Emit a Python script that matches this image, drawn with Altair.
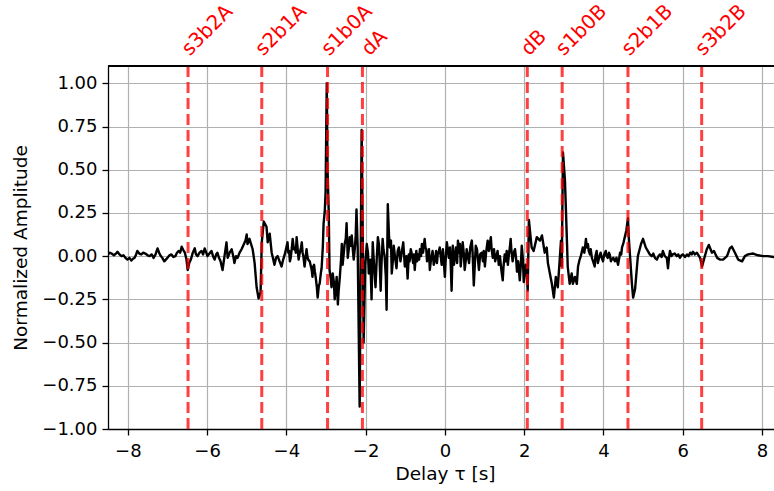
import altair as alt
import pandas as pd

# ---- data ----
delay_left = [-8.51, -8.45, -8.41, -8.35, -8.30, -8.26, -8.21, -8.16, -8.11, -8.06, -8.01, -7.96, -7.91, -7.87, -7.83,
              -7.79, -7.76, -7.71, -7.66, -7.61, -7.56, -7.50, -7.45, -7.40, -7.35, -7.30, -7.25, -7.21, -7.18, -7.13,
              -7.08, -7.04, -7.00, -6.95, -6.90, -6.85, -6.80, -6.76, -6.72, -6.68, -6.64, -6.60, -6.56, -6.52, -6.49,
              -6.45, -6.41, -6.36, -6.31, -6.28, -6.24, -6.19, -6.14, -6.10, -6.06, -6.02, -5.99, -5.94, -5.89, -5.85,
              -5.81, -5.77, -5.74, -5.70, -5.66, -5.61, -5.56, -5.51, -5.48, -5.43, -5.38, -5.34, -5.31, -5.27, -5.23,
              -5.18, -5.13, -5.07, -5.03, -5.00, -4.98, -4.93, -4.89, -4.85, -4.80, -4.75, -4.70, -4.65, -4.62, -4.57,
              -4.50, -4.47, -4.42, -4.37, -4.33, -4.30, -4.26, -4.22, -4.17, -4.12, -4.08,
              -4.04, -4.00, -3.97, -3.95, -3.93, -3.91, -3.89, -3.86, -3.84, -3.81, -3.79, -3.76, -3.74, -3.71, -3.69,
              -3.67, -3.65, -3.63, -3.61, -3.59, -3.57, -3.54, -3.51, -3.49, -3.47, -3.45,
              -3.41, -3.38, -3.36, -3.34, -3.32, -3.30, -3.28, -3.26, -3.23, -3.21, -3.18, -3.16, -3.13, -3.11, -3.08,
              -3.06, -3.03, -3.01, -2.98, -2.96, -2.93, -2.91, -2.88, -2.86, -2.83, -2.80, -2.78, -2.75, -2.73, -2.70,
              -2.68, -2.65, -2.62, -2.60, -2.58, -2.55, -2.53, -2.50, -2.48, -2.45, -2.42, -2.40, -2.37, -2.35, -2.32,
              -2.30, -2.27, -2.25, -2.23, -2.20, -2.15, -2.10, -2.07, -2.05]
amp_left = [0.01, 0.02, 0.015, 0.005, 0.015, 0.025, 0.01, 0.0, 0.005, -0.01, -0.02, -0.01, -0.025, -0.015, -0.01,
            0.01, 0.03, 0.015, 0.01, 0.02, 0.015, 0.005, 0.0, 0.01, -0.01, 0.01, 0.045, 0.02, 0.005, -0.01,
            -0.03, -0.02, -0.01, 0.005, 0.01, -0.005, 0.0, 0.02, 0.03, 0.02, 0.055, 0.035, 0.02, -0.02, -0.08,
            -0.04, -0.02, 0.02, 0.045, 0.01, 0.0, 0.02, 0.03, 0.01, 0.045, 0.02, 0.0, 0.015, 0.03, 0.0,
            -0.02, 0.01, 0.02, -0.01, -0.03, -0.08, 0.0, 0.08, -0.01, 0.02, 0.04, 0.0, -0.04, 0.0, -0.01,
            0.02, 0.04, 0.07, 0.09, 0.125, 0.07, 0.10, 0.07, 0.04, -0.04, -0.18, -0.245, -0.21, 0.08, 0.20,
            0.17, 0.08, 0.13, 0.02, -0.02, -0.05, -0.01, 0.0, -0.03, -0.06, -0.02,
            0.01, 0.05, 0.08, 0.02, 0.03, -0.03, -0.01, 0.05, 0.10, 0.04, 0.05, 0.02, 0.11, 0.03, -0.02,
            0.01, 0.03, 0.05, 0.08, 0.02, 0.0, -0.06, 0.0, 0.04, 0.0, -0.02,
            -0.03, -0.06, -0.08, -0.12, -0.06, -0.05, -0.09, -0.12, -0.18, -0.24, -0.17, -0.16, -0.10, -0.07, 0.05,
            0.19, 0.26, 0.37, 1.00, 0.50, 0.25, -0.08, -0.13, -0.18, -0.10, -0.15, -0.25, -0.18, -0.12, -0.28,
            -0.20, -0.12, -0.02, 0.07, -0.05, 0.02, 0.07, 0.10, 0.19, -0.01, 0.05, 0.11, 0.06, 0.12, 0.03,
            -0.02, 0.05, 0.12, 0.27, 0.05, -0.87, 0.73, 0.10, -0.50]

delay_mid = [-2.01, -1.97, -1.94, -1.92, -1.88, -1.85, -1.82, -1.79, -1.75, -1.72, -1.69, -1.66, -1.62, -1.60, -1.57,
             -1.55, -1.52, -1.49, -1.47, -1.44, -1.41, -1.39, -1.36, -1.34, -1.31, -1.29, -1.26, -1.22, -1.19, -1.16,
             -1.12, -1.09, -1.05, -1.03, -1.01, -0.97, -0.94, -0.91, -0.89, -0.86, -0.84, -0.80, -0.78, -0.76, -0.74,
             -0.72, -0.70, -0.68, -0.65, -0.63, -0.60, -0.58, -0.55, -0.51, -0.49, -0.47, -0.45, -0.43, -0.40, -0.38,
             -0.35, -0.31, -0.28, -0.25, -0.22, -0.20, -0.18, -0.16, -0.13, -0.10, -0.08, -0.05, -0.03, 0.00, 0.03,
             0.05, 0.08, 0.10, 0.13, 0.15, 0.17, 0.20, 0.23, 0.25, 0.28, 0.31, 0.33, 0.36, 0.38, 0.40,
             0.43, 0.45, 0.48, 0.50, 0.53, 0.55, 0.58, 0.61, 0.64, 0.68, 0.70, 0.73, 0.76, 0.78, 0.81,
             0.84, 0.86, 0.89, 0.93, 0.96, 0.98, 1.01, 1.04, 1.08, 1.11, 1.14, 1.16, 1.18, 1.21, 1.24,
             1.27, 1.31, 1.33, 1.36, 1.39, 1.42, 1.46, 1.48, 1.51, 1.54, 1.56, 1.59, 1.62, 1.64, 1.66,
             1.68, 1.71, 1.74, 1.77, 1.80, 1.82, 1.85, 1.89, 1.92, 1.94, 1.97, 1.99, 2.02, 2.04, 2.07,
             2.09, 2.12]
amp_mid = [-0.05, 0.07, 0.02, -0.10, -0.02, -0.25, 0.08, -0.04, -0.18, -0.02, 0.11, 0.06, -0.20, -0.05, 0.10,
           0.04, 0.0, -0.12, -0.31, 0.30, 0.12, 0.05, 0.09, -0.10, -0.02, 0.06, 0.0, -0.07, 0.03, 0.05,
           -0.03, 0.02, 0.08, 0.01, -0.06, 0.0, -0.13, 0.01, -0.03, 0.04, 0.02, -0.04, 0.01, -0.08, -0.02,
           0.03, -0.03, 0.01, -0.02, 0.04, 0.0, 0.07, 0.02, 0.10, 0.05, 0.04, -0.03, -0.01, 0.04, -0.08,
           -0.02, 0.03, -0.05, -0.02, 0.03, -0.04, 0.01, 0.02, 0.05, -0.01, -0.05, 0.04, -0.02, -0.12, 0.02,
           0.08, 0.03, -0.01, 0.05, -0.06, -0.20, 0.06, -0.05, -0.01, 0.05, -0.04, 0.09, 0.02, 0.07, -0.06,
           0.02, 0.08, 0.01, -0.08, -0.02, 0.04, 0.0, -0.04, 0.05, 0.09, 0.02, -0.17, -0.03, 0.06, 0.04,
           -0.03, -0.08, 0.01, 0.02, -0.03, 0.03, -0.06, 0.02, 0.09, 0.03, 0.08, 0.11, 0.04, -0.01, 0.04,
           -0.03, 0.01, 0.03, -0.05, 0.0, -0.07, -0.14, -0.06, 0.01, -0.03, 0.03, -0.05, 0.02, 0.05, 0.10,
           0.03, -0.03, 0.02, 0.04, -0.02, -0.09, -0.03, -0.14, -0.04, 0.06, -0.02, -0.15, -0.08, -0.05, -0.12,
           -0.20, 0.21]

delay_right = [2.19, 2.24, 2.32, 2.40, 2.45, 2.52, 2.57, 2.60, 2.65, 2.70, 2.75, 2.80, 2.85, 2.88, 2.93,
               2.95, 2.98, 3.03, 3.08, 3.10, 3.15, 3.20, 3.23, 3.28, 3.33, 3.36, 3.40, 3.43, 3.46, 3.48,
               3.52, 3.56, 3.58, 3.61, 3.63, 3.66, 3.68, 3.71, 3.74, 3.78, 3.80, 3.83, 3.86, 3.89, 3.93,
               3.96, 3.99, 4.02, 4.06, 4.08, 4.11, 4.14, 4.16, 4.19, 4.21, 4.25, 4.29, 4.33, 4.37, 4.40,
               4.42, 4.45, 4.47, 4.51, 4.54, 4.58, 4.62, 4.64, 4.72, 4.75, 4.80, 4.87, 4.95, 5.00, 5.07,
               5.12, 5.17, 5.22, 5.26, 5.30, 5.35, 5.39, 5.43, 5.47, 5.50, 5.55, 5.60, 5.63, 5.66, 5.68,
               5.72, 5.75, 5.80, 5.85, 5.89, 5.93, 5.97, 6.01, 6.06, 6.11, 6.15, 6.19, 6.23, 6.26, 6.31,
               6.36, 6.40, 6.44, 6.49, 6.56, 6.61, 6.66, 6.74, 6.79, 6.87, 6.94, 7.02, 7.12, 7.19, 7.24,
               7.32, 7.40, 7.50, 7.57, 7.65, 7.78, 7.90, 8.03, 8.15, 8.30, 8.45]
amp_right = [0.05, 0.03, 0.11, 0.09, 0.12, 0.02, 0.05, -0.04, -0.10, -0.16, -0.24, -0.12, -0.18, -0.08, 0.09,
             -0.06, 0.60, 0.44, 0.09, -0.06, -0.16, -0.10, -0.16, -0.12, -0.16, -0.06, -0.02, 0.0, 0.03, 0.05,
             0.02, 0.10, 0.05, 0.07, 0.03, 0.01, 0.04, -0.01, -0.03, -0.06, 0.0, 0.03, -0.04, -0.01, 0.02,
             -0.01, -0.03, 0.01, 0.03, 0.0, -0.01, 0.02, 0.01, -0.03, -0.02, -0.01, -0.03, -0.01, -0.05, -0.01,
             0.02, 0.01, 0.05, 0.08, 0.11, 0.15, 0.22, 0.11, -0.16, -0.24, -0.19, 0.0, 0.07, 0.10, 0.05,
             0.03, 0.01, 0.0, 0.015, -0.01, -0.02, 0.0, 0.01, -0.005, 0.03, 0.0, -0.01, -0.07, 0.0, 0.03,
             0.0, 0.01, 0.015, 0.0, 0.01, -0.01, 0.005, 0.01, -0.005, 0.01, 0.0, 0.02, 0.01, 0.025, 0.01,
             0.02, 0.005, -0.01, -0.06, 0.0, 0.04, 0.065, 0.02, 0.03, -0.01, -0.02, -0.02, 0.0, 0.045, 0.055,
             0.02, -0.02, -0.03, 0.0, 0.01, 0.015, 0.005, 0.0, 0.0, -0.005, 0.0]

delay = delay_left + delay_mid + delay_right
amplitude = amp_left + amp_mid + amp_right

marker_names = ["s3b2A", "s2b1A", "s1b0A", "dA", "dB", "s1b0B", "s2b1B", "s3b2B"]
marker_delays = [-6.48, -4.62, -2.96, -2.08, 2.08, 2.96, 4.62, 6.48]

x_ticks = [-8, -6, -4, -2, 0, 2, 4, 6, 8]
y_ticks = [-1.0, -0.75, -0.5, -0.25, 0.0, 0.25, 0.5, 0.75, 1.0]

assert len(delay) == len(amplitude)

sig = pd.DataFrame({"delay": delay, "amp": amplitude})
marks = pd.DataFrame({"name": marker_names, "delay": marker_delays})

FONT = "DejaVu Sans"
W, H = 666, 363

xscale = alt.Scale(domain=[-8.5, 8.305], nice=False, zero=False)
yscale = alt.Scale(domain=[-1.0, 1.1], nice=False, zero=False)

common_axis = dict(
    grid=True, gridColor="#b0b0b0", gridWidth=1.2,
    domain=True, domainColor="black", domainWidth=1.3,
    ticks=True, tickColor="black", tickWidth=1.3, tickSize=6,
    labelFont=FONT, labelFontSize=18, labelColor="black",
    titleFont=FONT, titleFontSize=18.5, titleColor="black", titleFontWeight="normal",
    labelFlush=False,
)

xaxis = alt.Axis(values=x_ticks, format="d", title="Delay τ [s]", labelPadding=7.5,
                 titleX=337, titleY=50.5, titleBaseline="alphabetic", titleAlign="center",
                 **common_axis)
yaxis = alt.Axis(values=y_ticks, format=".2f", title="Normalized Amplitude", labelPadding=5,
                 titleX=-88, titleY=H / 2, titleAngle=270, titleBaseline="middle",
                 titleAlign="center", **common_axis)

line = alt.Chart(sig).mark_line(color="black", strokeWidth=2.4, clip=True,
                                strokeJoin="round").encode(
    x=alt.X("delay:Q", scale=xscale, axis=xaxis),
    y=alt.Y("amp:Q", scale=yscale, axis=yaxis),
    order="delay:Q",
)

rules = alt.Chart(marks).mark_rule(color="red", opacity=0.75, strokeWidth=3,
                                   strokeDash=[11, 5]).encode(
    x=alt.X("delay:Q", scale=xscale),
    y=alt.datum(-1.0, scale=yscale),
    y2=alt.datum(1.1),
)

labels = alt.Chart(marks).transform_calculate(
    lx="datum.delay + (datum.name == 'dA' ? 0.18 : 0.04)"
).mark_text(color="red", fontSize=20, font=FONT, angle=315, align="left",
            baseline="alphabetic").encode(
    x=alt.X("lx:Q", scale=xscale),
    y=alt.datum(1.155, scale=yscale),
    text="name:N",
)

top_spine = alt.Chart(marks).mark_rule(color="black", strokeWidth=1.3).encode(
    y=alt.datum(1.1, scale=yscale),
)

chart = alt.layer(line, rules, top_spine, labels).properties(
    width=W, height=H,
    autosize=alt.AutoSizeParams(type="none"),
    padding={"left": 108, "top": 66, "right": 0, "bottom": 62},
    background="white",
).configure_view(stroke=None)

chart.save("out.html", embed_options={"renderer": "svg", "actions": False})
